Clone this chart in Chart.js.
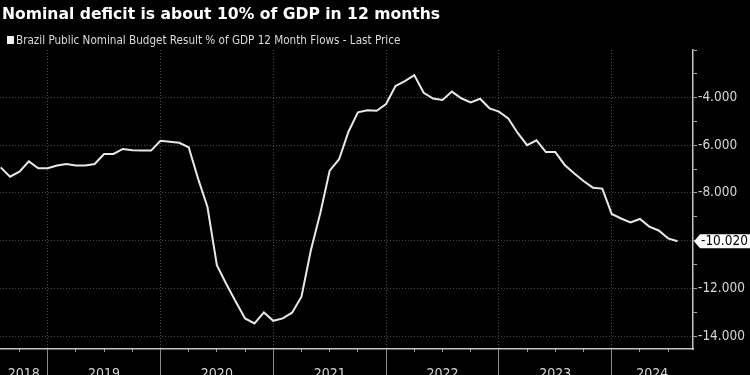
<!DOCTYPE html>
<html>
<head>
<meta charset="utf-8">
<script src="https://cdn.jsdelivr.net/npm/chart.js@4.4.0/dist/chart.umd.min.js"></script>
<style>
  html, body { margin: 0; padding: 0; background: #000; }
</style>
</head>
<body>
<canvas id="deficit-chart" width="750" height="375"></canvas>
<script>
const chartTitle = "Nominal deficit is about 10% of GDP in 12 months";
const seriesLabel = "Brazil Public Nominal Budget Result % of GDP 12 Month Flows - Last Price";

// month of each reading (12 month flow, % of GDP)
const months = [
  "2018-07", "2018-08", "2018-09", "2018-10", "2018-11", "2018-12",
  "2019-01", "2019-02", "2019-03", "2019-04", "2019-05", "2019-06",
  "2019-07", "2019-08", "2019-09", "2019-10", "2019-11", "2019-12",
  "2020-01", "2020-02", "2020-03", "2020-04", "2020-05", "2020-06",
  "2020-07", "2020-08", "2020-09", "2020-10", "2020-11", "2020-12",
  "2021-01", "2021-02", "2021-03", "2021-04", "2021-05", "2021-06",
  "2021-07", "2021-08", "2021-09", "2021-10", "2021-11", "2021-12",
  "2022-01", "2022-02", "2022-03", "2022-04", "2022-05", "2022-06",
  "2022-07", "2022-08", "2022-09", "2022-10", "2022-11", "2022-12",
  "2023-01", "2023-02", "2023-03", "2023-04", "2023-05", "2023-06",
  "2023-07", "2023-08", "2023-09", "2023-10", "2023-11", "2023-12",
  "2024-01", "2024-02", "2024-03", "2024-04", "2024-05", "2024-06",
  "2024-07"
];
const deficitValues = [
  -6.93, -7.32, -7.11, -6.68, -6.97, -6.97,
  -6.85, -6.79, -6.85, -6.85, -6.79, -6.37,
  -6.37, -6.16, -6.21, -6.23, -6.23, -5.82,
  -5.86, -5.90, -6.09, -7.40, -8.59, -11.02,
  -11.81, -12.54, -13.25, -13.46, -13.00, -13.35,
  -13.25, -13.01, -12.34, -10.40, -8.85, -7.07,
  -6.59, -5.44, -4.63, -4.54, -4.56, -4.28,
  -3.53, -3.32, -3.07, -3.81, -4.05, -4.11,
  -3.76, -4.04, -4.21, -4.06, -4.46, -4.60,
  -4.88, -5.49, -6.00, -5.80, -6.29, -6.29,
  -6.83, -7.18, -7.50, -7.78, -7.82, -8.88,
  -9.07, -9.23, -9.09, -9.41, -9.57, -9.90,
  -10.02
];
const yearLabels = ["2018", "2019", "2020", "2021", "2022", "2023", "2024"];
const yearStarts = [2019, 2020, 2021, 2022, 2023, 2024];
const yLabelTicks = [-4, -6, -8, -10, -12, -14];

// x is months after 2019-01-01, each reading sits at the end of its month
const xMin = -5.07;
const xMax = 68.65;
const yMin = -14.53;
const yMax = -2.02;

const axisFont = "'DejaVu Sans Condensed', 'DejaVu Sans', sans-serif";

function monthPos(m) {
  const [yr, mo] = m.split("-").map(Number);
  return (yr - 2019) * 12 + mo;
}

const lastValue = deficitValues[deficitValues.length - 1];
const yearPos = yearStarts.map((y) => (y - 2019) * 12);
const edges = [xMin, ...yearPos, xMax];
const yearCenters = yearLabels.map((_, i) => (edges[i] + edges[i + 1]) / 2);
const quarterPos = [];
for (let q = Math.ceil(xMin / 3) * 3; q <= xMax; q += 3) {
  if (q % 12 !== 0) quarterPos.push(q);
}
const yAllTicks = [];
for (let v = -14; v <= -3; v++) yAllTicks.push(v);
yAllTicks.push(yMax);

// keep the plot flush with the left edge
function flatX(height) {
  return (s) => {
    s.height = height;
    s.paddingLeft = 0;
    s.paddingRight = 0;
  };
}

const bgPlugin = {
  id: "bg",
  beforeDraw(chart) {
    const ctx = chart.ctx;
    ctx.save();
    ctx.fillStyle = "#000";
    ctx.fillRect(0, 0, chart.width, chart.height);
    ctx.restore();
  },
};

const headerPlugin = {
  id: "header",
  afterDraw(chart) {
    const ctx = chart.ctx;
    ctx.save();
    ctx.fillStyle = "#fff";
    ctx.font = "bold 15.6px 'DejaVu Sans'";
    ctx.textBaseline = "middle";
    ctx.fillText(chartTitle, 2, 15);
    ctx.fillStyle = "#f2f2f2";
    ctx.fillRect(7, 36, 7, 8);
    ctx.fillStyle = "#dcdcdc";
    ctx.font = "11.6px " + axisFont;
    ctx.fillText(chart.data.datasets[0].label, 16, 40.5);
    ctx.restore();
  },
};

const lastTagPlugin = {
  id: "lastTag",
  afterDraw(chart) {
    const ctx = chart.ctx;
    const y = chart.scales.y.getPixelForValue(lastValue);
    const x0 = chart.chartArea.right + 1;
    ctx.save();
    ctx.fillStyle = "#fff";
    ctx.beginPath();
    ctx.moveTo(x0, y);
    ctx.lineTo(x0 + 6, y - 7);
    ctx.lineTo(750, y - 7);
    ctx.lineTo(750, y + 7);
    ctx.lineTo(x0 + 6, y + 7);
    ctx.closePath();
    ctx.fill();
    ctx.fillStyle = "#000";
    ctx.font = "13.5px " + axisFont;
    ctx.textBaseline = "middle";
    ctx.fillText(lastValue.toFixed(3), x0 + 7, y + 0.5);
    ctx.restore();
  },
};

new Chart(document.getElementById("deficit-chart"), {
  type: "line",
  data: {
    datasets: [
      {
        label: seriesLabel,
        data: months.map((m, i) => ({ x: monthPos(m), y: deficitValues[i] })),
        borderColor: "#e8e8e8",
        borderWidth: 2,
        pointRadius: 0,
        tension: 0,
      },
    ],
  },
  options: {
    responsive: false,
    animation: false,
    devicePixelRatio: 1,
    layout: { padding: { top: 50, bottom: 0, left: 0, right: 0 } },
    plugins: { legend: { display: false }, tooltip: { enabled: false } },
    scales: {
      x: {
        type: "linear",
        position: "bottom",
        weight: 0,
        min: xMin,
        max: xMax,
        afterBuildTicks: (s) => { s.ticks = yearPos.map((v) => ({ value: v })); },
        afterFit: flatX(0),
        ticks: { display: false },
        grid: { color: "#4a4a4a", tickColor: "#8c8c8c", tickLength: 26, lineWidth: 1 },
        border: { display: true, color: "#c4c4c4", width: 1.5, dash: [1, 2] },
      },
      xQuarter: {
        type: "linear",
        position: "bottom",
        weight: 0,
        min: xMin,
        max: xMax,
        afterBuildTicks: (s) => { s.ticks = quarterPos.map((v) => ({ value: v })); },
        afterFit: flatX(0),
        ticks: { display: false },
        grid: { drawOnChartArea: false, tickColor: "#9a9a9a", tickLength: 3 },
        border: { display: false },
      },
      xYear: {
        type: "linear",
        position: "bottom",
        weight: 1,
        min: xMin,
        max: xMax,
        afterBuildTicks: (s) => { s.ticks = yearCenters.map((v) => ({ value: v })); },
        afterFit: flatX(26),
        ticks: {
          callback: (v, i) => yearLabels[i],
          color: "#d6d6d6",
          font: { family: axisFont, size: 14 },
          padding: 17,
          maxRotation: 0,
          autoSkip: false,
        },
        grid: { display: false, drawTicks: false },
        border: { display: false },
      },
      y: {
        position: "right",
        min: yMin,
        max: yMax,
        afterBuildTicks: (s) => { s.ticks = yAllTicks.map((v) => ({ value: v })); },
        afterFit: (s) => { s.width = 57; },
        ticks: {
          callback: (v) => (yLabelTicks.includes(v) && Math.abs(v - lastValue) > 0.5 ? v.toFixed(3) : ""),
          color: "#d6d6d6",
          font: { family: axisFont, size: 13.5 },
          padding: 1,
          autoSkip: false,
        },
        grid: {
          color: (c) => (c.tick && yLabelTicks.includes(c.tick.value) ? "#4a4a4a" : "transparent"),
          tickColor: "#a8a8a8",
          tickLength: 4,
        },
        border: { display: true, color: "#c4c4c4", width: 1.5, dash: [1, 2] },
      },
    },
  },
  plugins: [bgPlugin, headerPlugin, lastTagPlugin],
});
</script>
</body>
</html>
